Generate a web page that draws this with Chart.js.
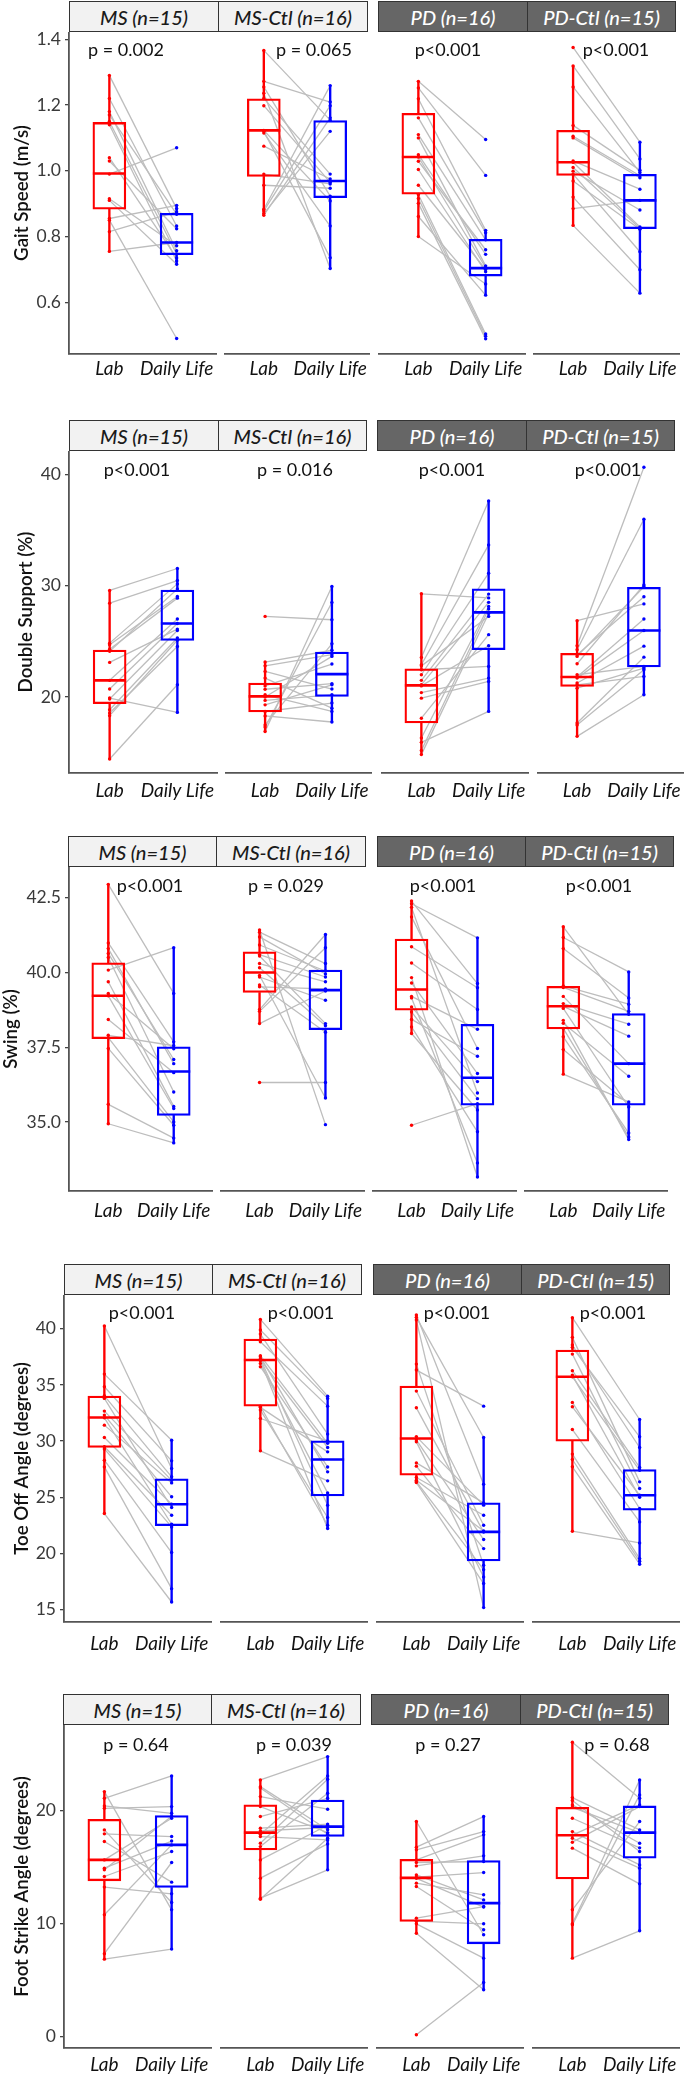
<!DOCTYPE html>
<html>
<head>
<meta charset="utf-8">
<script src="https://cdn.jsdelivr.net/npm/chart.js@4.4.0/dist/chart.umd.min.js"></script>
<style>
  html, body { margin: 0; padding: 0; background: #fff; }
  #page { position: relative; width: 685px; height: 2076px; overflow: hidden; font-family: Lato, sans-serif; }
  canvas { position: absolute; }
  .strip { position: absolute; box-sizing: border-box; height: 31px; border: 1.3px solid #333;
           display: flex; align-items: center; justify-content: center;
           font-style: italic; font-weight: 500; font-size: 20px; white-space: nowrap; }
  .strip.ms { background: #f2f2f2; color: #1a1a1a; }
  .strip.pd { background: #666666; color: #ffffff; }
  .pval { position: absolute; transform: translate(-50%, -50%); font-size: 18px; color: #111; white-space: nowrap; }
</style>
</head>
<body>
<div id="page"></div>
<script>
const conditions = ['Lab', 'Daily Life'];
const groups = ['MS (n=15)', 'MS-Ctl (n=16)', 'PD (n=16)', 'PD-Ctl (n=15)'];
const measures = ['Gait Speed (m/s)', 'Double Support (%)', 'Swing (%)', 'Toe Off Angle (degrees)', 'Foot Strike Angle (degrees)'];

// one sub-array per group (MS, MS-Ctl, PD, PD-Ctl); lab[i] and daily[i] are the same subject
const gaitLab = [
  [1.29, 1.22, 1.18, 1.17, 1.15, 1.14, 1.04, 1.03, 0.99, 0.915, 0.91, 0.855, 0.85, 0.815, 0.755],
  [1.366, 1.272, 1.255, 1.236, 1.22, 1.198, 1.123, 1.12, 1.115, 1.075, 0.99, 0.956, 0.883, 0.878, 0.87, 0.865],
  [1.272, 1.252, 1.219, 1.161, 1.11, 1.10, 1.049, 1.042, 1.029, 1.004, 0.956, 0.928, 0.916, 0.901, 0.861, 0.80],
  [1.375, 1.319, 1.255, 1.138, 1.105, 1.10, 1.03, 1.026, 1.01, 0.999, 0.99, 0.969, 0.92, 0.885, 0.834]
];
const gaitDaily = [
  [0.885, 0.832, 0.757, 0.868, 0.747, 0.726, 0.735, 0.824, 1.07, 0.772, 0.716, 0.895, 0.49, 0.875, 0.782],
  [1.154, 1.209, 0.923, 0.703, 0.99, 0.965, 0.908, 0.736, 0.832, 0.975, 0.96, 0.947, 1.259, 1.198, 1.12, 1.161],
  [1.095, 0.986, 0.819, 0.812, 0.79, 0.711, 0.746, 0.706, 0.76, 0.693, 0.70, 0.504, 0.497, 0.489, 0.622, 0.656],
  [1.087, 1.036, 0.995, 1.002, 0.985, 0.979, 0.944, 0.829, 0.825, 0.881, 0.754, 0.822, 0.699, 0.91, 0.628]
];
// box stats: [lower whisker, q1, median, q3, upper whisker]
const gaitLabBox = [[0.755, 0.883, 0.992, 1.147, 1.289], [0.865, 0.983, 1.123, 1.219, 1.366], [0.800, 0.929, 1.042, 1.175, 1.272], [0.834, 0.986, 1.026, 1.123, 1.319]];
const gaitDailyBox = [[0.716, 0.745, 0.782, 0.871, 0.895], [0.703, 0.918, 0.969, 1.153, 1.259], [0.622, 0.680, 0.704, 0.792, 0.819], [0.628, 0.824, 0.910, 0.989, 1.087]];
const gaitP = ['p = 0.002', 'p = 0.065', 'p<0.001', 'p<0.001'];
const gaitTicks = [0.6, 0.8, 1.0, 1.2, 1.4];

const supportLab = [
  [29.57, 28.43, 24.84, 24.7, 24.3, 24.1, 23.11, 21.5, 20.72, 19.91, 19.82, 18.86, 18.56, 18.33, 14.44],
  [27.24, 23.14, 22.8, 22.3, 21.7, 21.0, 20.7, 20.2, 20.0, 19.7, 19.3, 18.7, 18.3, 17.5, 17.3, 16.9],
  [29.27, 23.56, 22.9, 22.8, 22.45, 22.0, 21.5, 21.1, 21.0, 20.4, 19.9, 18.1, 16.32, 15.93, 15.2, 14.83],
  [26.85, 24.6, 24.25, 23.65, 23.8, 22.99, 22.0, 21.8, 21.7, 21.26, 21.1, 20.8, 17.67, 17.5, 16.47]
];
const supportDaily = [
  [31.54, 30.46, 30.16, 29.03, 28.88, 29.7, 26.1, 27.0, 26.6, 18.62, 25.98, 25.3, 24.54, 25.1, 21.1],
  [26.94, 24.2, 23.8, 20.72, 19.0, 22.96, 21.2, 18.71, 23.65, 20.2, 21.1, 19.46, 17.76, 24.78, 28.49, 29.93],
  [28.9, 37.6, 33.66, 27.24, 22.75, 31.12, 29.24, 28.5, 24.6, 21.7, 21.4, 25.6, 28.13, 18.71, 27.9, 27.5],
  [28.36, 40.63, 35.96, 29.9, 29.0, 30.07, 22.75, 27.0, 25.97, 24.57, 21.85, 22.6, 23.58, 22.45, 20.2]
];
const supportLabBox = [[14.44, 19.4, 21.5, 24.22, 29.57], [16.9, 18.66, 20.06, 21.26, 23.14], [14.83, 17.67, 21.05, 22.54, 29.27], [16.47, 20.96, 21.8, 23.92, 26.85]];
const supportDailyBox = [[18.62, 25.08, 26.6, 29.6, 31.54], [17.76, 20.06, 22.06, 24.04, 29.93], [18.71, 24.25, 27.6, 29.72, 37.6], [20.2, 22.7, 25.97, 29.84, 35.96]];
const supportP = ['p<0.001', 'p = 0.016', 'p<0.001', 'p<0.001'];
const supportTicks = [20, 30, 40];

const swingLab = [
  [42.95, 40.99, 40.8, 40.64, 40.5, 40.08, 39.69, 39.3, 39.22, 38.43, 37.9, 37.82, 37.46, 35.59, 34.94],
  [41.42, 41.35, 41.19, 40.92, 40.6, 40.55, 40.3, 40.16, 39.9, 39.85, 39.58, 39.52, 38.76, 38.7, 38.29, 36.32],
  [42.39, 42.3, 42.18, 41.86, 40.86, 40.32, 39.83, 39.65, 39.2, 39.15, 38.85, 38.68, 38.43, 38.18, 37.96, 34.89],
  [41.53, 41.17, 40.8, 39.55, 39.5, 39.2, 38.96, 38.87, 38.8, 38.4, 38.3, 38.13, 37.85, 37.42, 36.6]
];
const swingDaily = [
  [39.3, 37.68, 36.95, 37.09, 36.0, 40.83, 35.52, 37.45, 35.45, 36.65, 37.55, 35.0, 34.89, 34.46, 34.3],
  [34.91, 40.3, 39.95, 40.05, 39.85, 38.29, 39.69, 38.22, 35.8, 39.07, 38.0, 39.45, 41.27, 40.83, 39.38, 36.32],
  [39.63, 41.16, 35.97, 37.46, 39.49, 38.76, 33.16, 36.62, 38.1, 33.63, 36.35, 35.78, 37.2, 34.67, 35.4, 35.61],
  [38.6, 40.02, 39.15, 38.94, 38.7, 36.95, 38.27, 37.87, 35.5, 34.41, 36.53, 34.5, 34.63, 35.6, 35.67]
];
const swingLabBox = [[34.94, 37.79, 39.22, 40.32, 42.95], [38.29, 39.33, 40.0, 40.69, 41.42], [37.96, 38.74, 39.43, 41.12, 42.39], [36.6, 38.11, 38.87, 39.54, 41.53]];
const swingDailyBox = [[34.3, 35.22, 36.69, 37.51, 40.83], [35.8, 38.09, 39.41, 40.08, 41.27], [33.16, 35.56, 36.48, 38.27, 41.16], [34.41, 35.56, 36.95, 38.63, 40.02]];
const swingP = ['p<0.001', 'p = 0.029', 'p<0.001', 'p<0.001'];
const swingTicks = [35, 37.5, 40, 42.5];

const toeLab = [
  [40.24, 35.96, 34.83, 34.03, 33.8, 32.67, 32.31, 32.07, 31.42, 30.32, 29.5, 29.3, 28.3, 27.7, 23.55],
  [40.83, 39.88, 39.52, 38.84, 37.6, 37.5, 37.3, 37.25, 37.15, 36.9, 36.62, 33.1, 33.0, 32.76, 32.01, 29.13],
  [41.22, 41.01, 40.77, 36.85, 36.32, 34.45, 32.96, 30.4, 30.1, 29.93, 28.06, 27.77, 26.76, 26.52, 26.4, 26.31],
  [40.98, 39.23, 38.55, 38.34, 37.74, 36.26, 35.87, 35.72, 33.44, 33.05, 31.03, 28.84, 28.36, 27.71, 21.98]
];
const toeDaily = [
  [27.56, 30.08, 28.24, 26.82, 24.09, 26.5, 25.04, 22.6, 26.28, 24.38, 23.4, 22.36, 20.08, 16.87, 15.68],
  [34.0, 33.8, 30.62, 33.11, 29.8, 27.26, 24.29, 29.43, 22.22, 25.39, 27.7, 22.51, 29.04, 23.2, 30.02, 26.46],
  [26.16, 30.32, 15.18, 18.95, 33.11, 22.51, 21.9, 24.3, 21.24, 17.91, 24.5, 20.43, 23.4, 22.0, 18.56, 17.32],
  [31.92, 26.37, 29.43, 30.38, 25.78, 27.65, 25.0, 27.4, 24.0, 25.18, 22.81, 19.54, 19.3, 19.04, 20.94]
];
const toeLabBox = [[23.55, 29.43, 32.1, 34.0, 40.24], [29.13, 33.11, 37.21, 39.08, 40.83], [26.31, 26.97, 30.23, 34.89, 41.22], [21.98, 30.0, 35.72, 38.1, 40.98]];
const toeDailyBox = [[15.68, 22.48, 24.38, 26.64, 30.08], [22.22, 25.13, 28.36, 30.02, 34.0], [15.18, 19.33, 21.92, 24.5, 30.32], [19.04, 23.85, 25.18, 27.47, 31.92]];
const toeP = ['p<0.001', 'p<0.001', 'p<0.001', 'p<0.001'];
const toeTicks = [15, 20, 25, 30, 35, 40];

const strikeLab = [
  [21.68, 21.09, 20.41, 20.2, 18.29, 17.94, 17.26, 15.63, 14.9, 14.75, 14.16, 13.22, 10.77, 7.32, 6.84],
  [22.71, 22.12, 22.0, 21.24, 20.35, 19.47, 18.44, 18.2, 17.9, 17.7, 17.11, 16.81, 15.63, 14.01, 12.24, 12.15],
  [19.03, 16.76, 16.52, 15.63, 15.4, 15.1, 14.3, 14.1, 14.0, 13.57, 13.27, 10.47, 10.2, 9.97, 9.14, 0.15],
  [26.05, 21.15, 20.9, 20.5, 20.29, 19.32, 18.14, 17.82, 17.55, 17.2, 16.67, 11.21, 9.97, 9.88, 6.93]
];
const strikeDaily = [
  [11.21, 23.07, 19.76, 20.35, 11.86, 17.7, 13.66, 19.32, 17.3, 19.5, 16.37, 12.63, 16.96, 15.4, 7.73],
  [24.78, 18.3, 17.9, 20.12, 18.05, 21.09, 18.8, 18.5, 23.07, 17.4, 22.77, 21.53, 18.7, 17.05, 14.75, 17.55],
  [9.0, 19.47, 18.14, 17.85, 15.49, 15.99, 12.09, 14.51, 11.45, 12.54, 9.44, 11.5, 9.97, 6.93, 4.13, 4.78],
  [21.09, 18.29, 16.37, 17.11, 18.05, 16.7, 15.19, 20.5, 14.9, 20.35, 13.51, 19.03, 22.71, 21.39, 9.35]
];
const strikeLabBox = [[6.84, 13.78, 15.63, 19.23, 21.68], [12.15, 16.52, 18.05, 20.5, 22.71], [9.14, 10.18, 14.04, 15.69, 19.03], [6.93, 13.95, 17.82, 20.29, 26.05]];
const strikeDailyBox = [[7.73, 13.19, 16.96, 19.56, 23.07], [14.75, 17.7, 18.58, 20.94, 24.78], [4.13, 8.2, 11.8, 15.58, 19.47], [9.35, 15.78, 18.05, 20.41, 22.71]];
const strikeP = ['p = 0.64', 'p = 0.039', 'p = 0.27', 'p = 0.68'];
const strikeTicks = [0, 10, 20];

const RED = '#ff0000';
const BLUE = '#0000ff';
const LINE_GREY = '#bdbdbd';

// rows of the figure, built from the arrays above
const rows = [
  { title: measures[0], lab: gaitLab, daily: gaitDaily, labBox: gaitLabBox, dailyBox: gaitDailyBox, p: gaitP, ticks: gaitTicks, decimals: 1, range: [0.443, 1.422] },
  { title: measures[1], lab: supportLab, daily: supportDaily, labBox: supportLabBox, dailyBox: supportDailyBox, p: supportP, ticks: supportTicks, decimals: 0, range: [13.18, 42.09] },
  { title: measures[2], lab: swingLab, daily: swingDaily, labBox: swingLabBox, dailyBox: swingDailyBox, p: swingP, ticks: swingTicks, decimals: 1, range: [32.69, 43.53] },
  { title: measures[3], lab: toeLab, daily: toeDaily, labBox: toeLabBox, dailyBox: toeDailyBox, p: toeP, ticks: toeTicks, decimals: 0, range: [13.9, 43.0] },
  { title: measures[4], lab: strikeLab, daily: strikeDaily, labBox: strikeLabBox, dailyBox: strikeDailyBox, p: strikeP, ticks: strikeTicks, decimals: 0, range: [-1.03, 27.58] }
];

// page geometry per row (px): plot top, x-axis line, y-axis line, strips, panels, p-value spots
const layout = [
  { top: 32, axis: 354, yAxisX: 69, titlePad: 11, labelPad: 3, pY: 49,
    strips: [[69, 218], [218, 367], [378, 527], [527, 675]],
    panels: [[69, 217], [224, 370], [378, 526], [533, 680]], pX: [126, 314, 448, 616] },
  { top: 451, axis: 773, yAxisX: 69, titlePad: 15, labelPad: 6, pY: 469,
    strips: [[69, 218], [218, 366], [377, 526], [526, 674]],
    panels: [[69, 218], [225, 372], [381, 529], [537, 684]], pX: [137, 295, 452, 608] },
  { top: 867, axis: 1191, yAxisX: 69, titlePad: 0, labelPad: 8, pY: 885,
    strips: [[68, 216], [216, 365], [377, 525], [525, 673]],
    panels: [[69, 213], [220, 365], [372, 517], [524, 668]], pX: [150, 286, 443, 599] },
  { top: 1295, axis: 1622, yAxisX: 64, titlePad: 11, labelPad: 10, pY: 1312,
    strips: [[64, 212], [212, 361], [373, 521], [521, 669]],
    panels: [[64, 212], [220, 368], [376, 524], [532, 680]], pX: [142, 301, 457, 613] },
  { top: 1725, axis: 2048, yAxisX: 64, titlePad: 11, labelPad: 5, pY: 1744,
    strips: [[63, 211], [211, 360], [371, 520], [520, 668]],
    panels: [[64, 212], [220, 368], [376, 524], [532, 680]], pX: [136, 294, 448, 617] }
];

Chart.defaults.font.family = 'Lato, sans-serif';
const page = document.getElementById('page');

const addDiv = (cls, text, css) => {
  const d = document.createElement('div');
  d.className = cls;
  d.textContent = text;
  d.style.cssText = css;
  page.appendChild(d);
};

/**
 * Draws one facet panel (paired boxplot) as its own chart.
 */
const makePanel = (row, geo, g) => {
  const first = g === 0;
  const [left, right] = geo.panels[g];
  const x0 = first ? 0 : left;
  const width = right - x0;
  const labelH = 34;
  const height = (geo.axis - geo.top) + labelH;

  const canvas = document.createElement('canvas');
  canvas.width = width;
  canvas.height = height;
  canvas.style.left = x0 + 'px';
  canvas.style.top = geo.top + 'px';
  page.appendChild(canvas);

  const lab = row.lab[g];
  const daily = row.daily[g];
  const lb = row.labBox[g];
  const db = row.dailyBox[g];
  const pair = [RED, BLUE];

  // grey line for every subject, Lab -> Daily Life
  const pairLines = lab.map((v, i) => ({
    type: 'line',
    order: 4,
    data: [{ x: 0, y: v }, { x: 1, y: daily[i] }],
    borderColor: LINE_GREY,
    borderWidth: 1.3,
    pointRadius: 0,
    tension: 0
  }));

  const datasets = [
    {
      type: 'line', order: 0, showLine: false,
      data: lab.map(v => ({ x: 0, y: v })),
      pointRadius: 1.7, pointBorderWidth: 0, pointBackgroundColor: RED
    },
    {
      type: 'line', order: 0, showLine: false,
      data: daily.map(v => ({ x: 1, y: v })),
      pointRadius: 1.7, pointBorderWidth: 0, pointBackgroundColor: BLUE
    },
    {
      // median bars
      type: 'line', order: 1, showLine: false,
      data: [{ x: 0, y: lb[2] }, { x: 1, y: db[2] }],
      pointStyle: 'line', pointRadius: 16.5, pointBorderWidth: 2.6,
      pointBorderColor: pair, pointBackgroundColor: pair
    },
    {
      // boxes q1..q3
      type: 'bar', order: 2, grouped: false,
      data: [{ x: 0, y: [lb[1], lb[3]] }, { x: 1, y: [db[1], db[3]] }],
      backgroundColor: 'rgba(255,255,255,0)', borderColor: pair,
      borderWidth: 1.6, borderSkipped: false, barThickness: 33
    },
    {
      type: 'bar', order: 3, grouped: false,
      data: [{ x: 0, y: [lb[0], lb[1]] }, { x: 1, y: [db[0], db[1]] }],
      backgroundColor: pair, borderWidth: 0, barThickness: 1.7
    },
    {
      type: 'bar', order: 3, grouped: false,
      data: [{ x: 0, y: [lb[3], lb[4]] }, { x: 1, y: [db[3], db[4]] }],
      backgroundColor: pair, borderWidth: 0, barThickness: 1.7
    },
    ...pairLines
  ];

  return new Chart(canvas.getContext('2d'), {
    type: 'bar',
    data: { datasets },
    options: {
      responsive: false,
      animation: false,
      events: [],
      layout: { padding: 0, autoPadding: false },
      plugins: { legend: { display: false }, tooltip: { enabled: false } },
      scales: {
        x: {
          type: 'linear',
          min: -0.6,
          max: 1.6,
          offset: false,
          grid: { display: false, drawTicks: false },
          border: { display: true, color: '#555', width: 1.8 },
          afterBuildTicks: s => { s.ticks = conditions.map((c, i) => ({ value: i })); },
          afterFit: s => { s.height = labelH; s.paddingLeft = 0; s.paddingRight = 0; },
          ticks: {
            autoSkip: false,
            maxRotation: 0,
            padding: geo.labelPad,
            color: '#111',
            font: { size: 19, style: 'italic' },
            callback: v => conditions[v]
          }
        },
        y: {
          type: 'linear',
          display: first,
          min: row.range[0],
          max: row.range[1],
          beginAtZero: false,
          grid: { drawOnChartArea: false, drawTicks: true, tickLength: 4, color: '#444', lineWidth: 1.3 },
          border: { display: first, color: '#555', width: 1.8 },
          afterBuildTicks: s => { s.ticks = row.ticks.map(v => ({ value: v })); },
          afterFit: s => { s.width = first ? geo.yAxisX : 0; s.paddingTop = 0; s.paddingBottom = 0; },
          ticks: {
            padding: 4,
            color: '#3a3a3a',
            font: { size: 17.5 },
            callback: v => v.toFixed(row.decimals)
          },
          title: {
            display: first,
            text: row.title,
            color: '#111',
            font: { size: 18.7, weight: '600' },
            padding: { top: geo.titlePad, bottom: 0 }
          }
        }
      }
    }
  });
};

rows.forEach((row, r) => {
  const geo = layout[r];
  geo.strips.forEach(([a, b], g) => {
    addDiv('strip ' + (g < 2 ? 'ms' : 'pd'), groups[g],
      `left:${a}px;top:${geo.top - 31}px;width:${b - a + 1}px;`);
  });
  for (let g = 0; g < groups.length; g++) {
    makePanel(row, geo, g);
  }
  row.p.forEach((txt, g) => addDiv('pval', txt, `left:${geo.pX[g]}px;top:${geo.pY}px;`));
});
</script>
</body>
</html>
